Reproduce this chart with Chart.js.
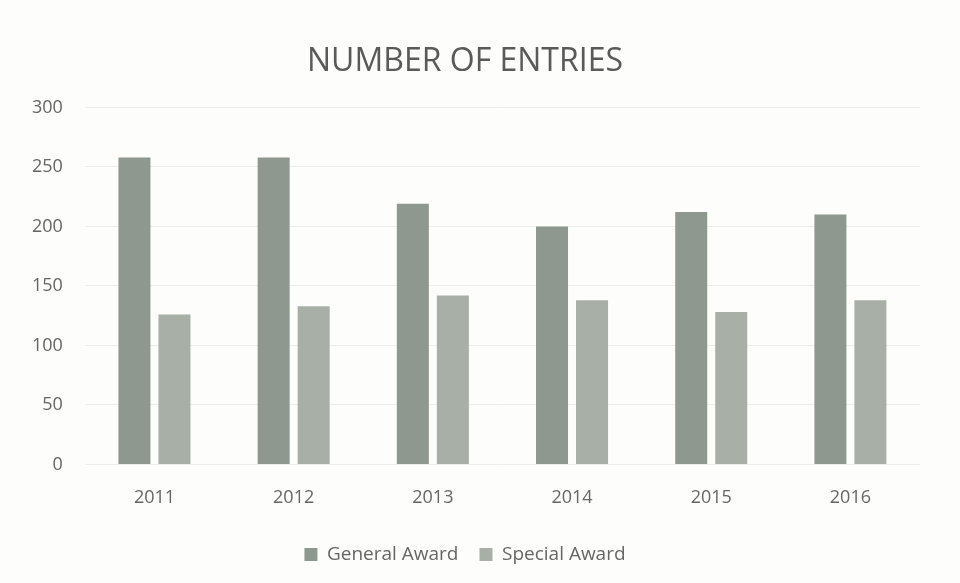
<!DOCTYPE html>
<html>
<head>
<meta charset="utf-8">
<script src="https://cdn.jsdelivr.net/npm/chart.js@4/dist/chart.umd.min.js"></script>
<style>
  html, body { margin: 0; padding: 0; background: #fdfdfb; }
  #wrap { width: 960px; height: 583px; }
</style>
</head>
<body>
<div id="wrap"><canvas id="chart" width="960" height="583"></canvas></div>
<script>
const years = ['2011', '2012', '2013', '2014', '2015', '2016'];
const generalAward = [258, 258, 219, 200, 212, 210];
const specialAward = [126, 133, 142, 138, 128, 138];
const yTicks = [0, 50, 100, 150, 200, 250, 300];

const ctx = document.getElementById('chart').getContext('2d');
new Chart(ctx, {
  type: 'bar',
  data: {
    labels: years,
    datasets: [
      {
        label: 'General Award',
        data: generalAward,
        backgroundColor: 'rgb(142, 152, 142)',
        categoryPercentage: 0.575,
        barPercentage: 0.8,
      },
      {
        label: 'Special Award',
        data: specialAward,
        backgroundColor: 'rgb(168, 175, 166)',
        categoryPercentage: 0.575,
        barPercentage: 0.8,
      },
    ],
  },
  options: {
    responsive: false,
    animation: false,
    layout: { padding: { left: 10, right: 40, top: 20, bottom: 9 } },
    plugins: {
      title: {
        display: true,
        text: 'NUMBER OF ENTRIES',
        color: '#5a5a5a',
        font: { family: 'Open Sans', size: 32, weight: 'normal' },
        padding: { top: 23, bottom: 26 },
      },
      legend: {
        position: 'bottom',
        labels: {
          color: '#666',
          font: { family: 'Open Sans', size: 19 },
          boxWidth: 13,
          boxHeight: 13,
          padding: 21,
        },
      },
      tooltip: { enabled: false },
    },
    scales: {
      x: {
        grid: { display: false },
        border: { display: false },
        ticks: { color: '#666', font: { family: 'Open Sans', size: 18 }, padding: 15 },
      },
      y: {
        min: 0,
        max: 300,
        afterBuildTicks: (axis) => { axis.ticks = yTicks.map(v => ({ value: v })); },
        grid: { color: '#ececea', drawTicks: false },
        border: { display: false },
        ticks: { color: '#666', font: { family: 'Open Sans', size: 18 }, padding: 22 },
      },
    },
  },
});
</script>
</body>
</html>
